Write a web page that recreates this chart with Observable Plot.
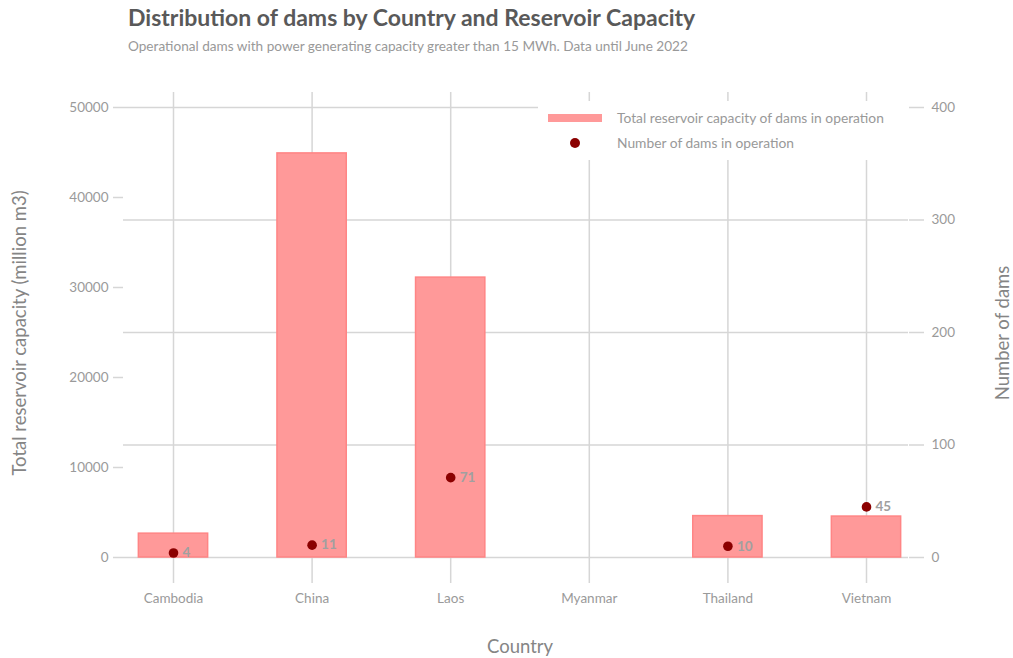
<!DOCTYPE html>
<html>
<head>
<meta charset="utf-8">
<script src="https://cdn.jsdelivr.net/npm/d3@7"></script>
<script src="https://cdn.jsdelivr.net/npm/@observablehq/plot@0.6"></script>
<style>
  html, body { margin: 0; padding: 0; background: #fff; }
  #wrap { position: relative; width: 1013px; height: 658px; font-family: Lato, "Open Sans", sans-serif; }
  #head { height: 70px; position: relative; }
  #title { position: absolute; left: 128px; top: 3px; font-size: 23px; font-weight: 700; color: #595959; white-space: nowrap; }
  #subtitle { position: absolute; left: 128px; top: 38px; font-size: 13.6px; color: #999; white-space: nowrap; }
  #legend { position: absolute; left: 538px; top: 101px; width: 370px; height: 59px; background: #fff; }
  #legend .sw { position: absolute; left: 10px; top: 13px; width: 54px; height: 8px; background: #ff9999; }
  #legend .dt { position: absolute; left: 32px; top: 37px; width: 10px; height: 10px; border-radius: 50%; background: #8b0000; }
  #legend .lb { position: absolute; left: 79px; font-size: 13.8px; color: #999; white-space: nowrap; line-height: 16px; }
</style>
</head>
<body>
<div id="wrap">
  <div id="head">
    <div id="title">Distribution of dams by Country and Reservoir Capacity</div>
    <div id="subtitle">Operational dams with power generating capacity greater than 15 MWh. Data until June 2022</div>
  </div>
  <div id="chart"></div>
  <div id="legend">
    <div class="sw"></div>
    <div class="lb" style="top:9px">Total reservoir capacity of dams in operation</div>
    <div class="dt"></div>
    <div class="lb" style="top:34px">Number of dams in operation</div>
  </div>
</div>
<script>
// Countries along the x axis
const countries = ["Cambodia", "China", "Laos", "Myanmar", "Thailand", "Vietnam"];
// Total reservoir capacity of operational dams (million m3)
const capacity = [2650, 44900, 31100, null, 4600, 4550];
// Number of operational dams
const damCount = [4, 11, 71, null, 10, 45];

// Axis tick values
const capacityTicks = [0, 10000, 20000, 30000, 40000, 50000];
const countTicks = [0, 100, 200, 300, 400];

// The dam count shares the capacity scale: 400 dams span 50000 million m3
const k = 50000 / 400;

const rows = countries.map((c, i) => ({country: c, capacity: capacity[i], dams: damCount[i]}));

const grid = "#d6d6d6";
const tickText = "#9a9a9a";
const titleText = "#858585";
const font = "Lato, 'Open Sans', sans-serif";

const chart = Plot.plot({
  width: 1013,
  height: 588,
  marginTop: 22,
  marginBottom: 101,
  marginLeft: 123,
  marginRight: 105,
  style: {fontFamily: font, background: "#fff"},
  x: {domain: countries, range: [103.7, 935.3], paddingInner: 0.5, paddingOuter: 0.25, round: false},
  y: {domain: [0, 50000], range: [487, 37]},
  marks: [
    // horizontal grid follows the dam-count ticks
    Plot.ruleY(countTicks.map(v => v * k), {stroke: grid, strokeWidth: 1.5}),
    Plot.gridX({stroke: grid, strokeOpacity: 1, strokeWidth: 1.5}),
    Plot.axisX({tickSize: 26, tickPadding: 10, stroke: grid, strokeWidth: 1.5, fill: tickText, fontSize: 13.5, label: null}),
    Plot.axisY(capacityTicks, {anchor: "left", tickSize: 10, tickPadding: 5, stroke: grid, strokeWidth: 1.5, fill: tickText, fontSize: 13.5, tickFormat: d => String(d), label: null}),
    Plot.axisY(countTicks.map(v => v * k), {anchor: "right", tickSize: 15, tickPadding: 8, stroke: grid, strokeWidth: 1.5, fill: tickText, fontSize: 13.5, tickFormat: d => String(d / k), label: null}),
    Plot.barY(rows.filter(d => d.capacity != null), {x: "country", y: "capacity", fill: "#ff9999", stroke: "#ff8585", strokeWidth: 1.5}),
    Plot.dot(rows.filter(d => d.dams != null), {x: "country", y: d => d.dams * k, r: 4.8, fill: "#8b0000"}),
    Plot.text(rows.filter(d => d.dams != null), {x: "country", y: d => d.dams * k, text: d => String(d.dams), dx: 9, textAnchor: "start", fill: "#a0a0a0", fontSize: 13.5, fontWeight: 700}),
    // axis titles
    Plot.text(["Total reservoir capacity (million m3)"], {frameAnchor: "left", textAnchor: "middle", dx: -103, dy: 8, rotate: -90, fill: titleText, fontSize: 18.5}),
    Plot.text(["Number of dams"], {frameAnchor: "right", textAnchor: "middle", dx: 95, dy: 8, rotate: -90, fill: titleText, fontSize: 18.5}),
    Plot.text(["Country"], {frameAnchor: "bottom", textAnchor: "middle", dx: 4, dy: 95, fill: titleText, fontSize: 18.5})
  ]
});
document.getElementById("chart").appendChild(chart);
</script>
</body>
</html>
